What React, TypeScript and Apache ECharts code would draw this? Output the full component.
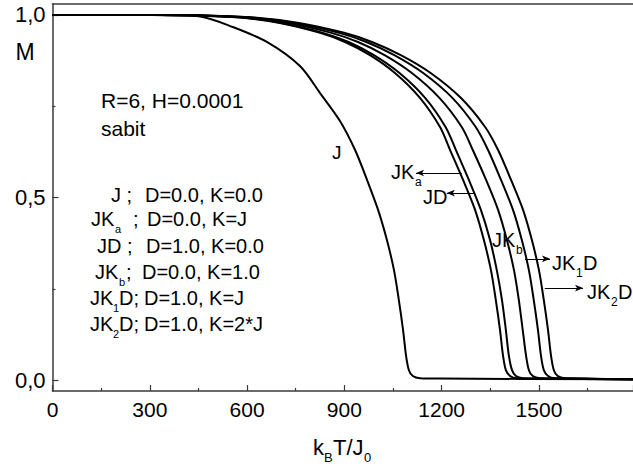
import React, { useEffect, useRef } from "react";
import * as echarts from "echarts";

// ---- data ----
const xTickValues = [0, 300, 600, 900, 1200, 1500];
const yMajorTicks = [0, 0.5, 1.0];
const yMinorTicks = [0.25, 0.75];

const jT = [0, 331, 455, 556, 661, 763, 825, 886, 933, 970, 1004, 1031, 1053, 1068, 1081, 1090, 1099, 1111, 1133, 1195, 1790];
const jM = [1.0, 1.0, 0.996, 0.967, 0.926, 0.86, 0.786, 0.71, 0.63, 0.548, 0.466, 0.384, 0.301, 0.219, 0.137, 0.068, 0.027, 0.011, 0.005, 0.004, 0.002];

const jkaT = [0, 301, 424, 578, 701, 825, 902, 979, 1056, 1133, 1195, 1226, 1266, 1303, 1330, 1352, 1367, 1380, 1389, 1398, 1411, 1432, 1494, 1790];
const jkaM = [1.0, 1.0, 0.999, 0.993, 0.978, 0.951, 0.926, 0.89, 0.841, 0.773, 0.693, 0.63, 0.548, 0.466, 0.384, 0.301, 0.219, 0.137, 0.068, 0.027, 0.011, 0.005, 0.004, 0.002];

const jdT = [0, 301, 428, 584, 708, 834, 913, 991, 1070, 1149, 1212, 1244, 1284, 1321, 1349, 1370, 1386, 1398, 1407, 1417, 1429, 1451, 1512, 1790];
const jdM = [1.0, 1.0, 0.999, 0.993, 0.978, 0.951, 0.926, 0.89, 0.841, 0.773, 0.693, 0.63, 0.548, 0.466, 0.384, 0.301, 0.219, 0.137, 0.068, 0.027, 0.011, 0.005, 0.004, 0.002];

const jkbT = [0, 316, 438, 599, 729, 860, 942, 1024, 1108, 1193, 1262, 1296, 1337, 1374, 1401, 1423, 1438, 1450, 1460, 1469, 1481, 1503, 1565, 1790];
const jkbM = [1.0, 1.0, 0.999, 0.993, 0.978, 0.951, 0.926, 0.89, 0.841, 0.773, 0.693, 0.63, 0.548, 0.466, 0.384, 0.301, 0.219, 0.137, 0.068, 0.027, 0.011, 0.005, 0.004, 0.002];

const jk1dT = [0, 331, 447, 613, 748, 884, 968, 1054, 1143, 1233, 1305, 1343, 1383, 1420, 1447, 1469, 1484, 1497, 1506, 1515, 1528, 1549, 1611, 1790];
const jk1dM = [1.0, 1.0, 0.999, 0.993, 0.978, 0.951, 0.926, 0.89, 0.841, 0.773, 0.693, 0.63, 0.548, 0.466, 0.384, 0.301, 0.219, 0.137, 0.068, 0.027, 0.011, 0.005, 0.004, 0.002];

const jk2dT = [0, 331, 454, 622, 760, 899, 985, 1074, 1166, 1259, 1334, 1374, 1414, 1451, 1478, 1500, 1515, 1528, 1537, 1546, 1558, 1580, 1642, 1790];
const jk2dM = [1.0, 1.0, 0.999, 0.993, 0.978, 0.951, 0.926, 0.89, 0.841, 0.773, 0.693, 0.63, 0.548, 0.466, 0.384, 0.301, 0.219, 0.137, 0.068, 0.027, 0.011, 0.005, 0.004, 0.002];

// arrows: [fromT, fromM, toT, toM]
const arrowJKa = [1262, 0.567, 1121, 0.567];
const arrowJD = [1303, 0.512, 1216, 0.512];
const arrowJK1D = [1457, 0.332, 1534, 0.332];
const arrowJK2D = [1518, 0.252, 1636, 0.252];

const FONT = '"Liberation Sans", Arial, Helvetica, sans-serif';
const AXIS_COLOR = "#3a3a3a";

const pair = (t: number[], m: number[]) => t.map((v, i) => [v, m[i]]);

const curveSeries = (name: string, t: number[], m: number[]) => ({
  name,
  type: "line",
  data: pair(t, m),
  showSymbol: false,
  symbol: "none",
  smooth: 0.3,
  lineStyle: { color: "#000", width: 2 },
  emphasis: { disabled: true },
  silent: true,
  z: 3,
});

const txt = (text: string, x: number, y: number, size = 20, align = "left") => ({
  type: "text",
  x,
  y,
  silent: true,
  style: {
    text,
    fontSize: size,
    fontFamily: FONT,
    fill: "#000",
    align,
    verticalAlign: "middle",
  },
});

export default function App() {
  const ref = useRef<HTMLDivElement>(null);
  useEffect(() => {
    if (!ref.current) return;
    const chart = echarts.init(ref.current, null, { renderer: "svg" });
    const arrowLine = (a: number[]) => [
      { coord: [a[0], a[1]], symbol: "none" },
      { coord: [a[2], a[3]], symbol: "arrow" },
    ];
    const option: any = {
      animation: false,
      backgroundColor: "#fff",
      grid: { left: 52.5, top: 4, width: 581, height: 387, containLabel: false },
      xAxis: [
        {
          type: "value",
          min: 0,
          max: 1790,
          interval: 300,
          position: "bottom",
          axisLine: { show: true, onZero: false, lineStyle: { color: AXIS_COLOR, width: 1.5 } },
          axisTick: { show: true, inside: true, length: 6, lineStyle: { color: AXIS_COLOR, width: 1.2 } },
          minorTick: { show: true, splitNumber: 2, length: 3, lineStyle: { color: AXIS_COLOR, width: 1.2 } },
          axisLabel: {
            showMaxLabel: false,
            fontSize: 21,
            fontFamily: FONT,
            color: "#000",
            margin: 8,
            formatter: (v: number) => (xTickValues.includes(v) ? String(v) : ""),
          },
          splitLine: { show: false },
        },
        {
          type: "value",
          min: 0,
          max: 1790,
          position: "top",
          axisLine: { show: true, onZero: false, lineStyle: { color: AXIS_COLOR, width: 1.5 } },
          axisTick: { show: false },
          axisLabel: { show: false },
          splitLine: { show: false },
        },
      ],
      yAxis: [
        {
          type: "value",
          min: -0.03,
          max: 1.03,
          position: "left",
          axisLine: { show: true, onZero: false, lineStyle: { color: AXIS_COLOR, width: 1.5 } },
          axisTick: { show: true, inside: true, length: 6, customValues: yMajorTicks, lineStyle: { color: AXIS_COLOR, width: 1.2 } },
          axisLabel: {
            customValues: yMajorTicks,
            fontSize: 22,
            fontFamily: FONT,
            color: "#000",
            margin: 7,
            formatter: (v: number) => v.toFixed(1).replace(".", ","),
          },
          splitLine: { show: false },
        },
        {
          type: "value",
          min: -0.03,
          max: 1.03,
          position: "left",
          offset: 0,
          axisLine: { show: false },
          axisTick: { show: true, inside: true, length: 3, customValues: yMinorTicks, lineStyle: { color: AXIS_COLOR, width: 1.2 } },
          axisLabel: { show: false },
          splitLine: { show: false },
        },
      ],
      series: [
        curveSeries("J", jT, jM),
        curveSeries("JKa", jkaT, jkaM),
        curveSeries("JD", jdT, jdM),
        curveSeries("JKb", jkbT, jkbM),
        curveSeries("JK1D", jk1dT, jk1dM),
        curveSeries("JK2D", jk2dT, jk2dM),
        {
          name: "arrows",
          type: "line",
          data: [],
          silent: true,
          markLine: {
            silent: true,
            animation: false,
            symbolSize: [5, 8],
            label: { show: false },
            lineStyle: { color: "#000", width: 1, type: "solid" },
            emphasis: { disabled: true },
            data: [arrowLine(arrowJKa), arrowLine(arrowJD), arrowLine(arrowJK1D), arrowLine(arrowJK2D)],
          },
        },
      ],
      graphic: [
        txt("M", 25, 52, 23, "center"),
        txt("R=6, H=0.0001", 101, 100, 21),
        txt("sabit", 101, 128, 21),
        // legend block
        txt("J ;", 111, 195),
        txt("D=0.0, K=0.0", 145, 195),
        txt("JK", 91, 219),
        txt("a", 115, 229, 11),
        txt(";", 133, 219),
        txt("D=0.0, K=J", 147, 219),
        txt("JD ;", 97, 246),
        txt("D=1.0, K=0.0", 146, 246),
        txt("JK", 95, 272),
        txt("b", 119, 282, 11),
        txt(";", 126, 272),
        txt("D=0.0, K=1.0", 142, 272),
        txt("JK", 90, 298),
        txt("1", 113, 308, 11),
        txt("D;", 119, 298),
        txt("D=1.0, K=J", 144, 298),
        txt("JK", 90, 324),
        txt("2", 113, 334, 11),
        txt("D;", 119, 324),
        txt("D=1.0, K=2*J", 144, 324),
        // curve labels
        txt("J", 332, 152, 19),
        txt("JK", 391, 172),
        txt("a", 415, 182, 12),
        txt("JD", 423, 197),
        txt("JK", 492, 240),
        txt("b", 516, 250, 12),
        txt("JK", 552, 263),
        txt("1", 576, 273, 12),
        txt("D", 583, 263),
        txt("JK", 587, 292),
        txt("2", 611, 302, 12),
        txt("D", 618, 292),
        // x-axis title
        txt("k", 313, 447, 22),
        txt("B", 324, 457, 13),
        txt("T/J", 333, 447, 22),
        txt("0", 364, 457, 13),
      ],
    };
    chart.setOption(option);
    return () => chart.dispose();
  }, []);
  return (
    <div
      ref={ref}
      style={{ position: "fixed", left: 0, top: 0, width: 633, height: 476, background: "#fff" }}
    />
  );
}
